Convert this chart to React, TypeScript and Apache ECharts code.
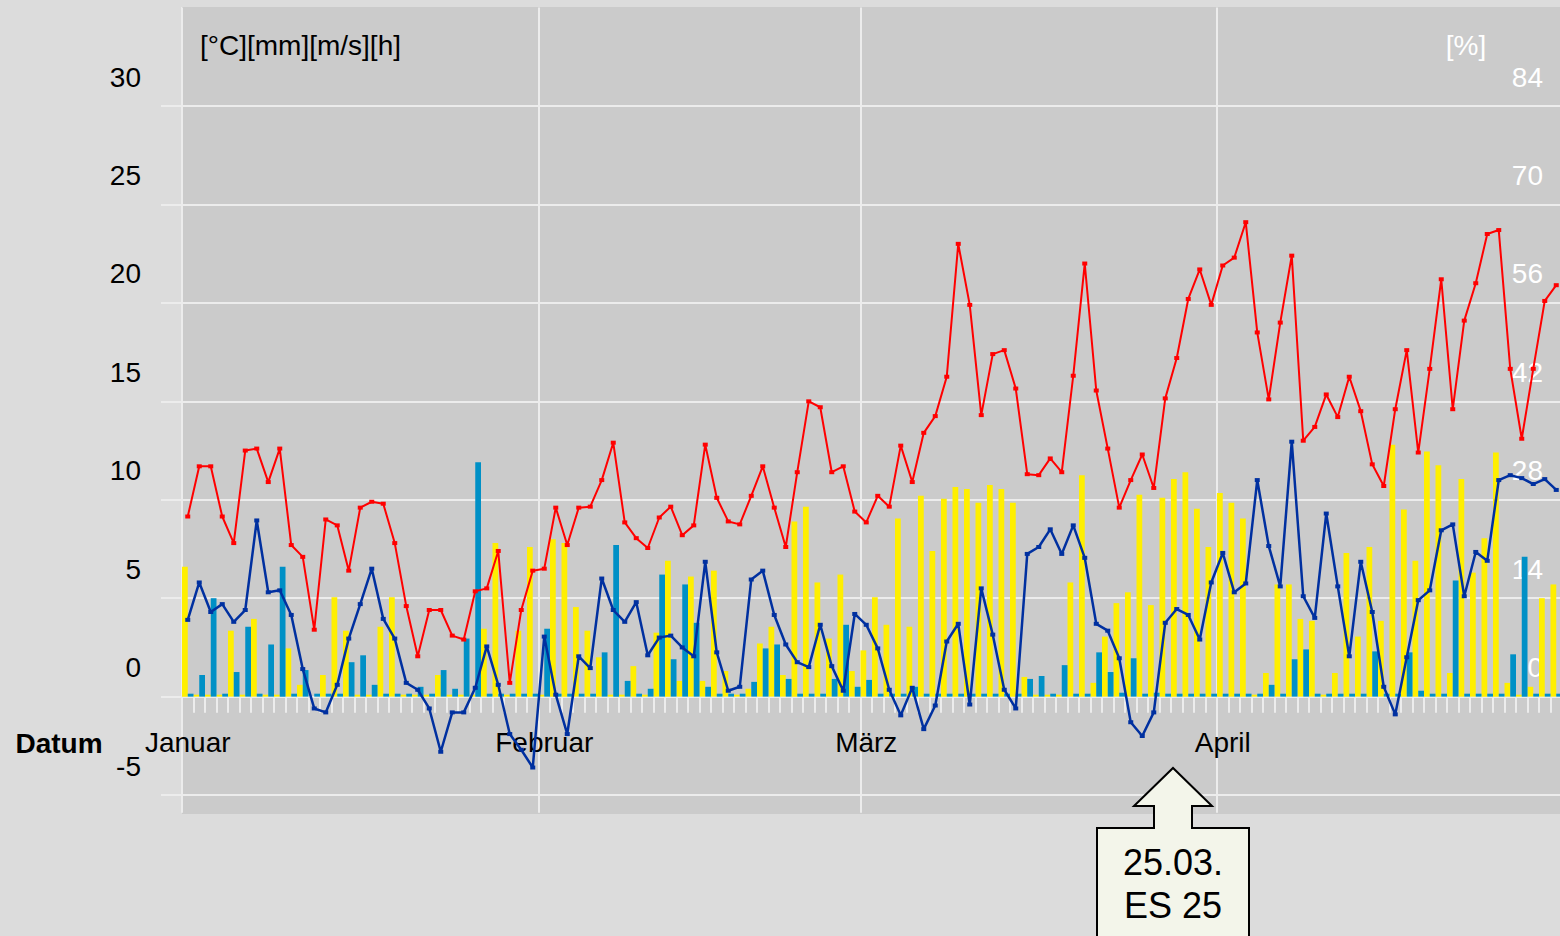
import React, { useEffect, useRef } from "react";
import * as echarts from "echarts";

// ---- data ----
const monthNames = ["Januar", "Februar", "März", "April"];
const monthDays = [31, 28, 31, 30];
const leftTickLabels = ["-5", "0", "5", "10", "15", "20", "25", "30"];
const rightTickLabels = ["", "0", "14", "28", "42", "56", "70", "84"];

// red line (daily max temperature)
const tempMax = [
  9.15, 11.7, 11.7, 9.15, 7.8, 12.5, 12.6, 10.9, 12.6, 7.7, 7.1, 3.4, 9.0, 8.7, 6.4,
  9.6, 9.9, 9.8, 7.8, 4.6, 2.05, 4.4, 4.4, 3.1, 2.9, 5.35, 5.5, 7.4, 0.7, 4.4, 6.4,
  6.5, 9.6, 7.7, 9.6, 9.65, 11.0, 12.9, 8.85, 8.05, 7.55, 9.1, 9.65, 8.2, 8.7, 12.8,
  10.1, 8.9, 8.75, 10.2, 11.7, 9.6, 7.6, 11.4, 15.0, 14.7, 11.4, 11.7, 9.4, 8.85,
  10.2, 9.65, 12.75, 10.9, 13.4, 14.25, 16.25, 23.0, 19.9, 14.3, 17.4, 17.6, 15.65, 11.3, 11.25,
  12.1, 11.4, 16.3, 22.0, 15.55, 12.6, 9.6, 11.0, 12.3, 10.6, 15.15, 17.2, 20.2, 21.7, 19.9,
  21.9, 22.3, 24.1, 18.5, 15.1, 19.0, 22.4, 13.0, 13.7, 15.35, 14.2, 16.25, 14.5, 11.8, 10.7,
  14.6, 17.6, 12.4, 16.65, 21.2, 14.6, 19.1, 21.0, 23.5, 23.7, 16.65, 13.1, 16.65, 20.1, 20.9,
];

// blue line (daily min temperature)
const tempMin = [
  3.9, 5.8, 4.3, 4.7, 3.8, 4.4, 8.95, 5.3, 5.4, 4.15, 1.4, -0.6, -0.8, 0.6, 2.95,
  4.7, 6.5, 3.95, 2.95, 0.7, 0.35, -0.6, -2.8, -0.8, -0.8, 0.45, 2.55, 0.6, -1.9, -2.7, -3.6,
  3.05, 0.1, -1.9, 2.05, 1.45, 6.0, 4.4, 3.8, 4.8, 2.1, 3.0, 3.1, 2.5, 2.05, 6.85,
  2.25, 0.3, 0.5, 5.95, 6.4, 4.15, 2.65, 1.75, 1.5, 3.65, 1.55, 0.3, 4.2, 3.65,
  2.45, 0.35, -0.95, 0.45, -1.65, -0.45, 2.8, 3.7, -0.4, 5.5, 3.15, 0.35, -0.6, 7.25, 7.6,
  8.5, 7.25, 8.7, 7.05, 3.7, 3.35, 1.95, -1.3, -2.0, -0.8, 3.75, 4.45, 4.15, 2.9, 5.8,
  7.3, 5.3, 5.75, 11.0, 7.65, 5.6, 12.95, 5.1, 4.0, 9.3, 5.6, 2.05, 6.85, 4.3, 0.5,
  -0.9, 2.0, 4.9, 5.4, 8.45, 8.75, 5.1, 7.35, 6.9, 11.0, 11.25, 11.1, 10.8, 11.05, 10.5,
];

// yellow bars (sunshine hours)
const sunshine = [
  6.6, 0.1, 0.1, 0.1, 3.35, 0.1, 3.95, 0.1, 0.1, 2.45, 0.6, 0, 1.1, 5.05, 3.35,
  0.1, 0.1, 3.55, 5.05, 0.1, 0.1, 0.1, 1.1, 0.1, 0.1, 0.1, 3.45, 7.8, 0.1, 3.35, 7.6,
  0.1, 8.0, 7.8, 4.55, 3.35, 2.0, 0.1, 0.1, 1.55, 0.1, 3.25, 6.9, 0.8, 6.1, 0.8,
  6.4, 1.3, 0.1, 0.4, 2.7, 3.55, 1.1, 8.9, 9.65, 5.8, 2.95, 6.2, 1.3, 2.35,
  5.05, 3.65, 9.05, 3.55, 10.2, 7.4, 10.05, 10.65, 10.55, 9.85, 10.75, 10.55, 9.85, 1.0, 0.1,
  0.1, 0.1, 5.8, 11.25, 0.7, 3.05, 4.75, 5.3, 10.25, 4.65, 10.1, 11.05, 11.4, 9.55, 7.6,
  10.35, 9.85, 9.05, 0.1, 1.2, 5.7, 5.7, 3.95, 3.85, 0.1, 1.2, 7.3, 3.05, 7.6, 3.85,
  12.8, 9.5, 6.9, 12.45, 11.75, 1.2, 11.05, 6.3, 8.05, 12.4, 0.7, 0.1, 0.5, 5.0, 5.7,
];

// teal bars (precipitation mm)
const rain = [
  0.15, 1.1, 5.0, 0.15, 1.25, 3.55, 0.15, 2.65, 6.6, 0.15, 1.35, 0.15, 0.15, 0.15, 1.75,
  2.1, 0.6, 0.15, 0.15, 0.15, 0.5, 0.15, 1.35, 0.4, 2.95, 11.9, 0.15, 0.15, 0.15, 0.15, 0.15,
  3.45, 0.15, 0.15, 0.15, 0.15, 2.25, 7.7, 0.8, 0.15, 0.4, 6.2, 1.9, 5.7, 3.75, 0.5,
  0.15, 0.15, 0.15, 0.75, 2.45, 2.65, 0.9, 0.15, 0.15, 0.15, 0.9, 3.65, 0.5, 0.85,
  0.15, 0.15, 0.15, 0.5, 0.15, 0.15, 0.15, 0.15, 0.15, 0.15, 0.15, 0.15, 0.15, 0.9, 1.05,
  0.15, 1.6, 0.15, 0.15, 2.25, 1.25, 0.2, 1.95, 0.15, 0.2, 0.15, 0.15, 0.15, 0.15, 0.15,
  0.15, 0.15, 0.15, 0.15, 0.6, 0.15, 1.9, 2.4, 0.15, 0.15, 0.15, 0.15, 0.15, 2.3, 0.15,
  0.15, 2.25, 0.3, 0.15, 0.15, 5.9, 0.15, 0.15, 0.15, 0.15, 2.15, 7.1, 0.15, 0.15, 0.15,
];

const calloutText = "25.03.\nES 25";

// categories (one per day)
const categories: string[] = [];
const monthStarts: number[] = [];
monthDays.forEach((n, m) => {
  monthStarts.push(categories.length);
  for (let d = 1; d <= n; d++) {
    categories.push(`${String(d).padStart(2, "0")}.${String(m + 1).padStart(2, "0")}.`);
  }
});

const FONT = '"Liberation Sans", Arial, sans-serif';
const GRIDLINE = "#ececec";
const PLOT_BG = "#cbcbcb";
const OUTER_BG = "#dcdcdc";

export default function App() {
  const ref = useRef<HTMLDivElement>(null);
  useEffect(() => {
    if (!ref.current) return;
    const chart = echarts.init(ref.current, undefined, { renderer: "svg" });
    const idx = (v: number) => Math.round(v / 5) + 1;
    const isTick = (v: number, lo: number) => Math.abs(v % 5) < 1e-9 && v <= 30 && v >= lo;
    chart.setOption({
      animation: false,
      backgroundColor: OUTER_BG,
      textStyle: { fontFamily: FONT },
      grid: {
        left: 182,
        top: 7.6,
        width: 1380,
        height: 805.2,
        show: true,
        backgroundColor: PLOT_BG,
        borderWidth: 0,
      },
      xAxis: {
        type: "category",
        data: categories,
        boundaryGap: true,
        axisLine: { show: false, onZero: true },
        axisTick: {
          show: true,
          interval: 0,
          length: 16,
          lineStyle: { color: GRIDLINE, width: 2 },
        },
        splitLine: {
          show: true,
          interval: (i: number) => monthStarts.includes(i),
          lineStyle: { color: GRIDLINE, width: 2 },
        },
        axisLabel: {
          interval: (i: number) => monthStarts.includes(i),
          formatter: (_v: string, i: number) => {
            const k = monthStarts.indexOf(i);
            return k >= 0 ? monthNames[k] : "";
          },
          fontSize: 28,
          color: "#000",
          margin: -84,
          fontFamily: FONT,
        },
      },
      yAxis: [
        {
          type: "value",
          min: -5.9,
          max: 35,
          splitNumber: 8,
          axisLine: { show: false },
          axisTick: { show: true, length: 21, lineStyle: { color: GRIDLINE, width: 2 } },
          splitLine: {
            show: true,
            lineStyle: {
              color: [PLOT_BG, GRIDLINE, GRIDLINE, GRIDLINE, GRIDLINE, GRIDLINE, GRIDLINE, GRIDLINE, GRIDLINE, PLOT_BG],
              width: 2,
            },
          },
          axisLabel: {
            showMinLabel: false,
            formatter: (v: number) => (isTick(v, -5) ? leftTickLabels[idx(v)] + "\n " : ""),
            fontSize: 28,
            lineHeight: 58,
            color: "#000",
            margin: 41,
            fontFamily: FONT,
          },
        },
        {
          type: "value",
          position: "right",
          min: -5.9,
          max: 35,
          splitNumber: 8,
          axisLine: { show: false },
          axisTick: { show: false },
          splitLine: { show: false },
          axisLabel: {
            inside: true,
            showMinLabel: false,
            formatter: (v: number) => (isTick(v, 0) ? rightTickLabels[idx(v)] + "\n " : ""),
            fontSize: 28,
            lineHeight: 58,
            color: "#ffffff",
            margin: 19,
            fontFamily: FONT,
          },
        },
      ],
      series: [
        {
          type: "bar",
          data: sunshine,
          itemStyle: { color: "#ffef00" },
          barGap: "0%",
          barCategoryGap: "0%",
          z: 1,
        },
        {
          type: "bar",
          data: rain,
          itemStyle: { color: "#0090c6" },
          barGap: "0%",
          barCategoryGap: "0%",
          z: 1,
        },
        {
          type: "line",
          data: tempMin,
          lineStyle: { color: "#0030a0", width: 2.5 },
          itemStyle: { color: "#0030a0" },
          symbol: "rect",
          symbolSize: [5, 4],
          showAllSymbol: true,
          z: 3,
        },
        {
          type: "line",
          data: tempMax,
          lineStyle: { color: "#ff0000", width: 2 },
          itemStyle: { color: "#ff0000" },
          symbol: "rect",
          symbolSize: [5, 4],
          showAllSymbol: true,
          z: 4,
        },
      ],
      graphic: [
        // hide the outward ticks at the plot's top and bottom edges
        { type: "rect", z: 50, shape: { x: 150, y: 0, width: 31, height: 12 }, style: { fill: OUTER_BG } },
        { type: "rect", z: 50, shape: { x: 150, y: 806, width: 31, height: 14 }, style: { fill: OUTER_BG } },
        {
          type: "text",
          x: 200,
          y: 45,
          style: { text: "[°C][mm][m/s][h]", fontSize: 28, fontFamily: FONT, fill: "#000", align: "left", verticalAlign: "middle" },
        },
        {
          type: "text",
          x: 1466,
          y: 45,
          style: { text: "[%]", fontSize: 28, fontFamily: FONT, fill: "#ffffff", align: "center", verticalAlign: "middle" },
        },
        {
          type: "text",
          x: 59,
          y: 743,
          style: { text: "Datum", fontSize: 28, fontWeight: "bold", fontFamily: FONT, fill: "#000", align: "center", verticalAlign: "middle" },
        },
        {
          type: "polygon",
          z: 100,
          shape: {
            points: [
              [1097, 828], [1154, 828], [1154, 806], [1134, 806], [1173, 768],
              [1212, 806], [1192, 806], [1192, 828], [1249, 828], [1249, 945], [1097, 945],
            ],
          },
          style: { fill: "#f3f5ea", stroke: "#000", lineWidth: 2 },
        },
        {
          type: "text",
          z: 101,
          x: 1173,
          y: 884,
          style: { text: calloutText, fontSize: 36, lineHeight: 43, fontFamily: FONT, fill: "#000", align: "center", verticalAlign: "middle" },
        },
      ],
    });
    return () => chart.dispose();
  }, []);
  return (
    <div style={{ position: "fixed", left: 0, top: 0, width: 1560, height: 936, overflow: "hidden" }}>
      <div ref={ref} style={{ width: 1600, height: 936 }} />
    </div>
  );
}
